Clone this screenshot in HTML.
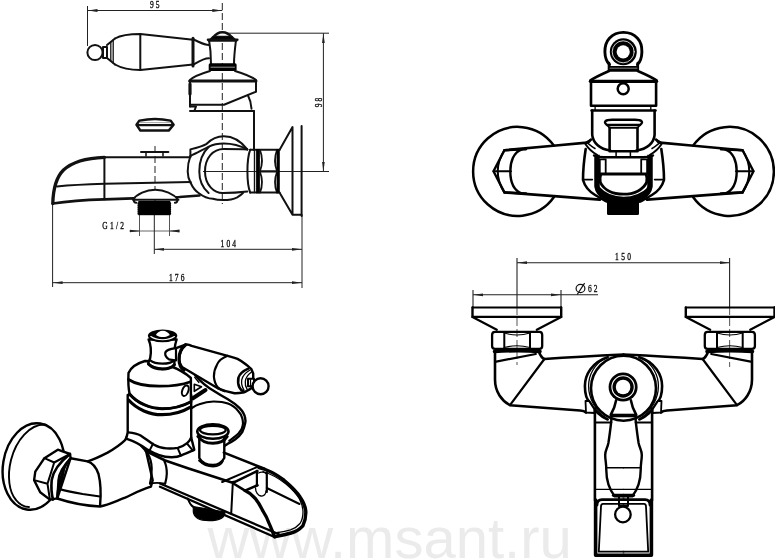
<!DOCTYPE html>
<html><head><meta charset="utf-8"><style>
html,body{margin:0;padding:0;background:#fff;overflow:hidden}
svg{display:block}
.t{font-family:"Liberation Serif",serif;font-size:10px;letter-spacing:2.8px;fill:#111;stroke:#111;stroke-width:0.35px}
svg{will-change:transform}
.wm{font-family:"Liberation Sans",sans-serif;font-size:58px;fill:#ebebeb}
</style></head><body>
<svg width="775" height="559" viewBox="0 0 775 559">
<defs>
<marker id="ar" viewBox="0 0 10 4" refX="10" refY="2" markerWidth="10" markerHeight="4" orient="auto-start-reverse" markerUnits="userSpaceOnUse"><path d="M0,0.6 L10,2 L0,3.4 z" fill="#222"/></marker>
</defs>
<!-- watermark -->
<text class="wm" x="207.5" y="558">www.msant.ru</text>

<!-- ================= FIGURE 1 : side view ================= -->
<g fill="none" stroke="#222" stroke-width="1">
 <!-- dim 95 -->
 <line x1="87.5" y1="6" x2="87.5" y2="46"/>
 <line x1="87.5" y1="10.5" x2="222.3" y2="10.5" marker-start="url(#ar)" marker-end="url(#ar)"/>
 <!-- dim 98 -->
 <line x1="226" y1="33.2" x2="329" y2="33.2"/>
 <line x1="323.4" y1="33.2" x2="323.4" y2="171.5" marker-start="url(#ar)" marker-end="url(#ar)"/>
 <line x1="203" y1="171.5" x2="329" y2="171.5"/>
 <!-- G1/2 -->
 <line x1="139.5" y1="214" x2="139.5" y2="236" stroke="#555"/>
 <line x1="169.5" y1="214" x2="169.5" y2="236" stroke="#555"/>
 <line x1="129.5" y1="231" x2="139.5" y2="231" marker-end="url(#ar)"/>
 <line x1="179.5" y1="231" x2="169.5" y2="231" marker-end="url(#ar)"/>
 <line x1="139.5" y1="231" x2="169.5" y2="231" stroke="#666"/>
 <line x1="154.3" y1="214" x2="154.3" y2="254"/>
 <!-- dim 104 -->
 <line x1="154.3" y1="249.3" x2="302" y2="249.3" marker-start="url(#ar)" marker-end="url(#ar)"/>
 <!-- dim 176 -->
 <line x1="52.6" y1="203" x2="52.6" y2="287"/>
 <line x1="302" y1="215" x2="302" y2="288"/>
 <line x1="52.6" y1="282.7" x2="302" y2="282.7" marker-start="url(#ar)" marker-end="url(#ar)"/>
 <!-- centerlines -->
 <line x1="222.3" y1="3" x2="222.3" y2="204" stroke-dasharray="7 3"/>
 <line x1="155" y1="146" x2="155" y2="214" stroke-dasharray="7 3"/>
</g>
<text class="t" transform="translate(150,7.7) scale(0.75,1)">95</text>
<text class="t" transform="translate(102.3,229) scale(0.75,1)" style="letter-spacing:3px">G1/2</text>
<text class="t" transform="translate(220.6,246.6) scale(0.75,1)">104</text>
<text class="t" transform="translate(169,280.5) scale(0.75,1)">176</text>
<text class="t" transform="translate(321.9,101.4) rotate(-90) scale(0.75,1)" text-anchor="middle">98</text>

<g fill="none" stroke="#111" stroke-width="2" stroke-linejoin="round" stroke-linecap="round">
 <!-- handle -->
 <circle cx="95" cy="52.5" r="7.6"/>
 <rect x="103" y="47" width="4" height="11"/>
 <path d="M107,45 L115,38.5 M107,58 L115,64.5"/>
 <path d="M110.8,42 V61 M113.2,40 V63" stroke-width="1.3"/>
 <path d="M115,38.5 C122,34.5 132,34 140.3,34 L193,39.7 M115,64.5 C122,68.5 132,70 140.3,70 L193,64.5"/>
 <path d="M140.3,34 V70"/>
 <path d="M193,38.2 V66" stroke-width="3"/>
 <path d="M193,39.5 C198,41 203,45 209,45 M193,65 C198,62 203,58.3 209,58.3"/>
 <!-- cap -->
 <path d="M213.3,37.5 C216,33.6 219,32.3 222.4,32.3 C226,32.3 229,33.6 231.8,37.5" stroke-width="2.6" fill="#fff"/>
 <path d="M208.5,41 L213,36.5 H232 L236.7,41 Z" fill="#000" stroke-width="1.5"/>
 <path d="M208,39.8 H237.3" stroke-width="2.6"/>
 <path d="M209,40 C210.5,48 211,56 211,64 M236,40 C235,48 234,56 234,64"/>
 <rect x="208.7" y="63.3" width="27.9" height="7.8" rx="1.5" fill="#000" stroke="none"/>
 <path d="M211,67.2 H234.5" stroke="#999" stroke-width="1"/>
 <path d="M210,71 C200,74 193,77 190,80 M235,71 C245,74 252,77 256,80"/>
 <!-- body -->
 <path d="M189.6,81 H256" stroke-width="3"/>
 <path d="M190,81 V106.4 M256,81 V91.7 L224,104.8 H190" />
 <path d="M190,84 V94" stroke-width="3.2"/>
 <path d="M248,95.5 Q251,101 251.5,108.7"/>
 <path d="M190,111 H254 M190,106.5 L196,106.5 L194.5,110.5" />
 <path d="M254,111 V150"/>
 <!-- elbow -->
 <path d="M104.4,157.2 H190.4 V149.4 C196,148 202,146.5 206.7,143.8 C212,138.5 217,136.3 223.8,136.3 C232,136.3 240,140 247.3,149.4"/>
 <path d="M190.4,156 C197,153 203,149.5 208.9,146.7 C213,144.5 218,143.5 223.8,143.5 C232,143.5 241,146 247.3,149.4"/>
 <path d="M190.4,156 C188.5,161 187.7,166 187.7,171.5 C187.7,177 189,180 190.7,183"/>
 <path d="M208.9,146.7 C202,153 199.3,162 199.3,171.5 C199.3,180 201.5,187 208.6,193"/>
 <path d="M247.3,149.4 C240,149 232,149 223.8,149 C213,149 205,158 205,171.5 C205,185 214,193 222.9,193 C231,193 239,192.5 247.3,191.5"/>
 <path d="M190.7,183 C193,188 195.5,191 198.6,193 C203,196.5 208,198.7 212.9,198.7 C216,199.8 219,200.1 222.9,200.1 C229,200.1 234,199 237.2,197.3 C239.5,196 241.5,194.5 243,193"/>
 <!-- spout -->
 <path d="M104.4,157.3 C86,158 72,162 63.5,170 C56.5,177 53.2,187 52.8,203.5" stroke-width="3.3"/>
 <path d="M52.8,203.5 C70,200.8 88,199.8 104.4,199.3 L133,198.4 L179.5,197 L199.4,195.5" stroke-width="2.7"/>
 <path d="M104.4,157.3 V199.3"/>
 <path d="M57,186.5 C72,185 88,184.3 104.4,183.8 L190.7,182"/>
 <!-- diverter knob -->
 <path d="M141,151.9 H168.4" stroke-width="2"/>
 <path d="M146,152 V156 M163,152 V156" stroke-width="1.5"/>
 <!-- floating cap -->
 <path d="M136.5,124.8 L139.5,120.6 C146,119.2 152,118.9 155,118.9 C158,118.9 164,119.2 170.5,120.6 L173.6,124.8 L168.7,130.6 H140.4 Z" stroke-width="2.5"/>
 <path d="M137,125.1 H173" stroke-width="2.3"/>
 <path d="M139.5,122.6 H170.5" stroke="#999" stroke-width="0.9"/>
 <!-- dome + thread -->
 <path d="M132.8,199.8 C137,194 146,189.8 155.2,189.8 C164.5,189.8 173.5,194 178.5,199.8 Z" fill="#fff"/>
 <path d="M134,200 C133.5,201.5 134.3,202.8 136.3,202.8 M177.2,200 C177.7,201.5 176.9,202.8 174.9,202.8"/>
 <rect x="138.3" y="201" width="32" height="14.2" fill="#000" stroke="none"/>
 <path d="M138.3,203 V214 M170.3,203 V214" stroke="#000" stroke-width="1.6" stroke-dasharray="1 1"/>
 <!-- nut -->
 <path d="M250.2,149.7 H279.5 M250.2,192.6 H279.5"/>
 <path d="M250.2,149.7 C246.5,160 246.5,183 250.2,192.6"/>
 <path d="M254.5,149.7 V192.6" stroke-width="1.4"/>
 <rect x="256.1" y="149" width="3.8" height="44.3" fill="#000" stroke="none"/>
 <path d="M260,150 Q264,160.5 260,171 M260,172 Q264,182 260,192.5 M277,150 Q273,160.5 277,171 M277,172 Q273,182 277,192.5" stroke-width="1.8"/>
 <rect x="276.6" y="149" width="3.2" height="44.3" fill="#000" stroke="none"/>
 <path d="M260,171.4 H277" stroke-width="2.2"/>
 <!-- flange -->
 <path d="M279.5,150 L292.5,127 V214.8 L279.5,192.6 M292.5,214.8 H301.6"/>
 <path d="M301.6,126 V216"/>
</g>

<!-- ================= FIGURE 2 : front view ================= -->
<g fill="none" stroke="#000" stroke-width="2.6" stroke-linejoin="round" stroke-linecap="round">
 <!-- knob -->
 <path d="M609.5,64.6 C607,62 605,57 604.9,52 C604.8,46 606.5,41.5 609.4,38.3 C613,34.5 618,32.4 623.4,32.4 C629,32.4 634,34.5 637.5,38.3 C640.5,41.5 642,46 641.9,52 C641.8,57 640,62 637.5,64.6" stroke-width="2.9"/>
 <circle cx="623.3" cy="51.8" r="13.5" fill="#000" stroke="none"/>
 <circle cx="623.2" cy="51.8" r="6.6" fill="#fff" stroke="none"/>
 <circle cx="623.2" cy="51.8" r="11" stroke="#fff" stroke-width="0.8"/>
 <path d="M609,63 V70.5 H637.8 V63"/>
 <rect x="609" y="66" width="28.8" height="4.8" fill="#000" stroke="none"/>
 <path d="M610,68.2 H637" stroke="#999" stroke-width="0.8"/>
 <path d="M609,71 C600,75 594,78 590.4,80.4 M637.8,71 C647,75 653,78 656.6,80.4"/>
 <path d="M590.4,81.3 H656.6" stroke-width="3.2"/>
 <path d="M591,81 V105.8 H656.1 V81"/>
 <circle cx="623.2" cy="88.7" r="5.5" stroke-width="2.5"/>
 <path d="M595.1,106 V110 M650.8,106 V110" stroke-width="1.3"/>
 <path d="M591.6,110.5 H655.5" stroke-width="2.6"/>
 <!-- lower body -->
 <path d="M592.2,110.5 V134.8 C593,143 600,149 610.2,150.5 M654.6,110.5 V134.8 C654,143 647,149 636.3,150.5"/>
 <!-- diverter -->
 <path d="M607,125 C603,122 605,119.7 612,119.7 H635 C642,119.7 644,122 640,125 Z" stroke-width="2.4"/>
 <path d="M607,125 L609.6,127.9 H637.5 L640,125" stroke-width="1.6"/>
 <path d="M609.6,127.9 V151.2 H637.5 V127.9"/>
 <path d="M616.1,151.4 V155.8 M630.4,151.4 V155.8" stroke-width="1.5"/>
 <!-- lower spout -->
 <path d="M585.7,149 C584,160 583,170 583,180 C585,187 590,192 595.1,195 C600,198 604,200 607.2,201.7 M661.3,149 C663,160 664,170 664,180 C662,187 657,192 651.9,195 C647,198 643,200 639.8,201.7"/>
 <path d="M583,179.6 H592.4 M654.6,179.6 H664" stroke-width="1.6"/>
 <path d="M597,154.8 V186.3 C598.5,196 609,201 623.5,201 C638,201 648.5,196 650,186.3 V154.8" stroke-width="5.5" stroke-linecap="butt"/>
 <path d="M594,155.5 C597,157 600,157.3 604,157.3 H643 C647,157.3 650,157 653,155.5" stroke-width="2.4"/>
 <path d="M599.8,159.3 V174 M605.7,159.3 V174 M641.2,159.3 V174 M647.1,159.3 V174 M599.8,159.3 H605.7 M641.2,159.3 H647.1" stroke-width="1.8"/>
 <path d="M600.8,174 H646.1 C647.5,178 647.2,180 646.6,182.4 C643,190 634,194.2 623.5,194.2 C613,194.2 604,190 600.3,182.4 C599.8,180 599.5,178 600.8,174 Z" stroke-width="2.8"/>
 <path d="M598.9,188.3 C605,195 613,198.2 623.5,198.2 C634,198.2 642,195 649,188.3" stroke-width="2.8"/>
 <path d="M585.4,144 C588,148 591,151.5 597,154.8 M661.6,144 C659,148 656,151.5 650,154.8" stroke-width="2"/>
 <path d="M585.4,142.7 L590.5,139.8 M661.6,142.7 L656.5,139.8" stroke-width="1.8"/>
 <rect x="607" y="200" width="32" height="15" rx="1.5" fill="#000" stroke="none"/>
</g>
<g fill="none" stroke="#000" stroke-width="2.6" stroke-linejoin="round" stroke-linecap="round" id="f2side">
 <!-- left flange circle (partial, hidden behind arm) -->
 <path d="M553.8,145.5 A44.5,44.5 0 1 0 553.8,197.3" stroke-width="2.5"/>
 <!-- hex nut -->
 <path d="M526,149.3 L504.4,150.2 L493.5,171.3 L504.4,192.4 L526,193.5" stroke-width="2.4"/>
 <path d="M504.4,150.2 Q491,171.3 504.4,192.4" stroke-width="2"/>
 <path d="M493.5,171.3 H511" stroke-width="2"/>
 <path d="M522,149.3 C513.5,152 510.3,162 510.3,171.3 C510.3,181 513.5,190.5 522,193.6" stroke-width="2.4"/>
 <!-- arm -->
 <path d="M504.4,150.2 C530,148 560,145 587,142.6 C589,142 590,141 591,139.5"/>
 <path d="M504.4,192.4 C530,194.5 565,197 600,199.6"/>
 <path d="M587,142.6 C590,145 592.5,147 595,148.5" stroke-width="1.5"/>
</g>
<use href="#f2side" transform="translate(1247,0) scale(-1,1)"/>

<!-- ================= FIGURE 4 : top view ================= -->
<g fill="none" stroke="#222" stroke-width="1.1">
 <line x1="517" y1="258" x2="517" y2="307"/>
 <line x1="517" y1="307" x2="517" y2="365" stroke-dasharray="8 3" stroke="#666"/>
 <line x1="729.6" y1="258" x2="729.6" y2="307"/>
 <line x1="729.6" y1="307" x2="729.6" y2="367" stroke-dasharray="8 3" stroke="#666"/>
 <line x1="517" y1="262.7" x2="729.6" y2="262.7" marker-start="url(#ar)" marker-end="url(#ar)"/>
 <line x1="473" y1="290" x2="473" y2="307"/>
 <line x1="561" y1="290" x2="561" y2="307"/>
 <line x1="473" y1="294.8" x2="561" y2="294.8" marker-start="url(#ar)" marker-end="url(#ar)"/>
 <line x1="561" y1="294.8" x2="598" y2="294.8"/>
</g>
<text class="t" transform="translate(615,260) scale(0.75,1)" style="letter-spacing:3.2px">150</text>
<text class="t" transform="translate(588,292.4) scale(0.75,1)">62</text>
<g fill="none" stroke="#111" stroke-width="1.2"><ellipse cx="580.5" cy="288.5" rx="4.4" ry="4.1"/><path d="M584.6,283.1 L577.2,294.5"/></g>
<g fill="none" stroke="#000" stroke-width="2.6" stroke-linejoin="round" stroke-linecap="round" id="f4side">
 <!-- flange -->
 <path d="M472.5,307.5 H561.2" stroke-width="2"/>
 <path d="M472.5,307.5 V316.9 H561.2 V307.5" stroke-width="2.4"/>
 <path d="M472.5,317 L496.8,329.8 M561.2,317 L536.8,329.8" stroke-width="2.2"/>
 <!-- nut -->
 <path d="M495,331.8 H539.5 C541.5,331.8 542.2,333 542.2,335 V346 C542.2,348 541.5,348.8 539.5,348.8 H495 C493,348.8 492.1,348 492.1,346 V335 C492.1,333 493,331.8 495,331.8 Z" stroke-width="2.3"/>
 <path d="M504.3,332 V348.5 M530,332 V348.5" stroke-width="2"/>
 <path d="M504.3,333 Q517,337 530,333 M504.3,347.5 Q517,344 530,347.5" stroke-width="1.2"/>
 <path d="M494.5,351.5 Q517,350 540,351.5" stroke-width="3.6"/>
 <!-- arm -->
 <path d="M495,352 V379.4 C495,392 502,401 510,405.2 L580,410.5 C583,410.8 585,411.5 586,412.5"/>
 <path d="M495,361.8 L535.8,354" stroke-width="2.2"/>
 <path d="M539,352 C540.5,356 542,358 544.4,359 C565,357.5 590,356 623.5,354.5"/>
 <path d="M544.4,359 L510,405.2" stroke-width="2.2"/>
 <!-- crescent -->
 <path d="M607.7,357.2 C592,362 584.9,375 584.9,386 C584.9,395 587,400 590.2,402.8 C594,410 600,416 607.7,419.5" stroke-width="2.6"/>
 <path d="M604.5,359 C594.5,364 588.6,375 588.6,386 C588.6,399 596,411 606,418" stroke-width="1.3"/>
 <path d="M585.5,401 L589,401 L594.5,409.5 L594.5,413 L586,412.5 Z" stroke-width="1.8" fill="#fff"/>
 <path d="M594.9,408.8 V500" stroke-width="2.6"/>
 <path d="M595.6,500 V555.2 H623.5" stroke-width="3.6"/>
 <path d="M594.9,422.5 H611.3" stroke-width="2"/>
 <path d="M594.9,489.4 H623.5" stroke-width="1.4"/>
 <!-- neck -->
 <path d="M616.1,400.4 C615,407 613,411 610.7,415"/>
 <path d="M611.3,415 V421 C610.5,428 609.5,436 608.4,443 C607.5,448 605.2,450 605.2,455 C605.2,460 606.3,463 606.3,470 C606.3,480 609,489 614.8,496.4 H623.5" stroke-width="2.4"/>
 <path d="M606.3,467.7 H623.5" stroke-width="1.6"/>
 <!-- knob -->
 <path d="M619,497 V506 H623.5" stroke-width="2"/>
 <path d="M613.5,495.3 H623.5" stroke-width="3.2"/>
 <!-- spout box -->
 <path d="M623.5,499.6 H602 C598.5,499.6 597,501.5 597,505" stroke-width="2.8"/>
 <path d="M623.5,503.8 H603 C601.5,503.8 601,505 601,506.5 L598.8,551.7 H623.5" stroke-width="1.8"/>
</g>
<use href="#f4side" transform="translate(1247,0) scale(-1,1)"/>
<g fill="none" stroke="#000" stroke-width="2.6">
 <circle cx="623.5" cy="388.2" r="32.5"/>
 <circle cx="623.1" cy="387" r="14.5" fill="#000" stroke="none"/>
 <circle cx="623.1" cy="387" r="11.2" stroke="#fff" stroke-width="1.1"/>
 <circle cx="623.1" cy="387" r="7.3" fill="#fff" stroke="none"/>
 <path d="M610.7,415.5 H635.8" stroke-width="3.6"/>
 <circle cx="622.9" cy="514.5" r="7.8" stroke-width="2.3" fill="#fff"/>
</g>

<!-- ================= FIGURE 3 : perspective ================= -->
<g fill="none" stroke="#000" stroke-width="2.4" stroke-linejoin="round" stroke-linecap="round">
 <!-- wall flange -->
 <ellipse cx="33.5" cy="466.5" rx="30.5" ry="43.5" transform="rotate(9 33.5 466.5)" fill="#fff" stroke-width="2.4"/>
 <path d="M45,424.5 C30,424 16,440 11,460 C7,476 9,492 16,500 C20,505 25,507 29,507" stroke-width="1.9"/>
 <!-- pipe + elbow -->
 <path d="M70.6,458.2 L87.6,461.4 C95,459 101,456 107.6,452.6 C114,449 120,445 125.1,440.1 L128.9,432.6 L146,451 L152.7,480.2 L150.9,486.7 C140,490 133,494 125.1,497.7 C115,501.5 108,505 100,506.5 C88,506 72.5,503.5 57.2,498.5 Z" fill="#fff"/>
 <path d="M87.6,461.4 C93,463 96.3,467.7 98.5,474 C101.3,485.2 101,495 100.1,505.2"/>
 <path d="M58.8,488.9 C66,491 74,492.5 82.6,494 L100,496.5" stroke-width="2.2"/>
 <!-- hex nut -->
 <path d="M44.4,458.2 L57.8,449.7 L70,454 L70.6,458 C64,466 58.5,480 57.2,498.4 L49.9,499.6 L40.2,492.3 L34.1,480.1 L35.3,471.6 Z" fill="#fff"/>
 <path d="M44.4,458.2 L54.2,462.5 L70,454 M54.2,462.5 L47.5,483.8 L49.9,499.6 M34.1,480.1 L47.5,483.8" stroke-width="2"/>
 <path d="M70,454 C60,462 53,472 51.7,480 C51,488 51.5,494 53,499.6" stroke-width="2.6"/>
 <path d="M70.6,458.2 C63,466 59,473 58.4,480 C58,488 57.5,494 57.2,498.4" stroke-width="2.2"/>
 <!-- body lower cylinder -->
 <path d="M127.7,395 V432.4 L126.2,438.6 C132,440.5 140,444 147.9,449.9 C151.5,452 155,454 159.2,455.1 C163,456.5 167,457.2 171.6,457.2 C175,457.2 179,456.5 181.9,455.1 C186,453.5 190.5,451.5 194.3,449.9 L191.2,437.5 V395 Z" fill="#fff"/>
 <path d="M128.3,432.4 C134,433 138,434 140.6,435.5 C146,439 150,442.5 154.1,444.8 C158,447 162,448.4 166.4,448.4 C170,448.6 174,448.5 177.8,447.9 C181.5,446.8 185,445 187.1,443.2 C189,441.5 190.5,439.5 191.2,437.5" stroke-width="2.4"/>
 <path d="M153,443.7 L149.9,449.9 M177.8,448.4 L180.9,455.6 M187.1,443.7 L192.3,449.9" stroke-width="2"/>
 <!-- band ring -->
 <path d="M128.6,400 C137,409.5 150,414.7 162,414.7 C174,414.7 184,411 190.9,406.8" stroke-width="3.2"/>
 <!-- upper body -->
 <path d="M128.5,373 C128,383 128.5,389 129.6,394 C137,403 150,408.7 162,408.7 C174,408.7 184,405.5 190.9,401.7 V378 C180,368 160,361 145,361 C138,363 131,367 128.5,373 Z" fill="#fff" stroke-width="2.4"/>
 <path d="M129.6,394 C137,403 150,408.7 162,408.7 C174,408.7 184,405.5 190.9,401.7" stroke-width="3"/>
 <path d="M128.5,379.5 C136,384.5 147,386.2 159.4,386.2 C172,386.2 183,384.5 190.7,381.7" stroke-width="2.8"/>
 <ellipse cx="185.3" cy="390.7" rx="3" ry="5.5" transform="rotate(20 185.3 390.7)" stroke-width="2"/>
 <!-- cap -->
 <path d="M148.6,339.5 C151,345 151.5,351 150.2,358 L148.1,363.7 C152,367.5 157,369 162.6,369 C168,369 172,367.5 174.4,364.7 L174.4,358 C174,352 174.5,346 176.6,339.5 Z" fill="#fff"/>
 <path d="M150.2,360.4 C153,362.8 157.5,363.7 162.6,363.7 C168,363.7 172,362.5 174.2,360.4" stroke-width="2.2"/>
 <path d="M148.6,364.2 C152,367.5 157,369 162.6,369 C168,369 172,367.5 174.4,364.7" stroke-width="3"/>
 <ellipse cx="162.6" cy="335.85" rx="14.7" ry="6.45" fill="#000" stroke="none"/>
 <path d="M150.8,336.5 C154,338.8 158,339.7 162.6,339.7 C167,339.7 171,338.8 174.4,336.5" stroke="#fff" stroke-width="1.1"/>
 <path d="M155.9,335 C157,332.5 160,330.7 162.8,330.7 C165.5,330.7 168.5,332.5 169.8,335 C167,336.8 165,337.1 162.8,337.1 C160.5,337.1 158.5,336.8 155.9,335 Z" fill="#fff" stroke="none"/>
 <!-- outlet loop behind diverter -->
 <path d="M195,375 C200,381 207,387 213.6,390.7 C218,393.5 223,396.5 227.9,399.3 C232,401.8 236,404.5 239.4,407.9 C242.5,411 244.5,414.5 245.1,417.9 C245.6,420 245.6,422 245.1,423.6 C244.5,426.5 243.5,429.5 242.2,432.2 C240.5,435 238,437.5 235.1,439.4 C232,441.5 230,442.7 227.9,443.7 L223.6,446.5" stroke-width="2.4"/>
 <path d="M192.2,407.9 C194.5,406.3 197,405 199.3,404.3 C204,402.5 209,401.5 213.6,401.5 C219,401.5 224,402 227.9,403.6 C232,405.2 235.5,407.5 238,410.8 C240,413 241.6,415.5 242.2,417.9 C242.8,420 243,422 243,423.6 C242.8,425.5 242.3,427.5 241.5,429.4 C240,432 238,434.5 235.1,436.5 C233,438 231,439.8 229.3,440.8" stroke-width="2.2"/>
 <path d="M194.3,384.2 L201.5,386.8 L194.3,391.3 Z" stroke-width="1.6"/>
 <path d="M192.5,398.5 L205.5,390" stroke-width="4"/>
 <path d="M194.8,377.4 L198.8,382.4" stroke-width="1.5"/>
 <!-- handle -->
 <path d="M176,348.1 C170,349 165.2,350 165.2,353.5 C165,356 167,358 169,359.4 C172,360 174,360.5 176,360.4 Z" fill="#fff" stroke-width="2.2"/>
 <path d="M176,348.1 L185.5,344.6 C188,344 190,345 191.6,345.9 L227.6,355.8 C231,357 234.5,357.5 237.5,358.8 C241,360.5 243.5,362.5 246.3,364.7 C248.5,366.5 250,367.5 251.3,369.1 L253.2,373.5 L253.2,387 C250,389 247,391 244.4,392.2 C240,393 237,393.5 234.5,393.2 C228,392 222,390 217.8,388.3 L182,367 C180.5,365 179.5,363 179.3,360 C179,355 181,349 186,344.8 Z" fill="#fff"/>
 <path d="M185.5,344.8 C181.5,348 179,353 179,359 C179,364.5 180.5,368 184,370.1" stroke-width="3.2"/>
 <path d="M227.6,355.8 C222,358 218.5,361 217,364.7 C214.5,369 213.9,373 213.9,376.5 C214.2,381 215.5,384.5 217.8,387.3 C219.5,389 222,390.5 224.7,391.3" stroke-width="2.2"/>
 <path d="M248.3,368.6 C243,371 239.5,374 238.5,377.5 C237.8,381 238,384.5 239.4,387.3 C240.5,389.5 241.8,390.6 243.4,391.3" stroke-width="2.6"/>
 <path d="M250,370 C245,373 242.3,376 241.7,380 C241.2,384 242,387 244,390" stroke-width="1.3"/>
 <path d="M251.5,372 C247.5,375 245.6,378 245.3,381.5 C245,385 245.5,387 247,389" stroke-width="1.3"/>
 <path d="M248,378.8 H254 V386.2 H248 Z" fill="#fff" stroke-width="2"/>
 <path d="M250.5,379.5 V385.5" stroke-width="1.2"/>
 <circle cx="260.6" cy="386.3" r="8" fill="#fff" stroke-width="2.4"/>
 <!-- diverter -->
 <path d="M199.3,436 V458 C201.5,462 206,465 213,465 C219,465 222,462 224.3,458 V436 Z" fill="#fff" stroke-width="2.4"/>
 <path d="M199,460.5 C203,464.5 208,466.5 213,466.5 C218,466.5 221.5,464.5 223,461" stroke-width="1.8"/>
 <path d="M197.9,436.5 C201,441 206,443.2 212.9,443.2 C219.5,443.2 224.5,441 227.2,436.5" stroke-width="3"/>
 <ellipse cx="212.9" cy="431.5" rx="15.6" ry="7.2" fill="#fff" stroke-width="2.6"/>
 <ellipse cx="212.9" cy="430.1" rx="12.9" ry="4.3" stroke-width="2.2"/>
 <!-- spout -->
 <path d="M145.8,451 L165.2,460.5 L187.1,468 L231,482.2 C232.5,482.6 233.5,482.4 235,481.8 L257.4,471" stroke-width="2.6"/>
 <path d="M223.9,452.6 L264.5,468.7" stroke-width="2.6"/>
 <path d="M222.2,482 L257.4,466.9" stroke-width="2"/>
 <path d="M232.8,483 L231.2,513.7" stroke-width="2"/>
 <path d="M160,483.5 L279,534.3" stroke-width="2.3"/>
 <path d="M160,486.8 L274.6,537" stroke-width="2.3"/>
 <path d="M259,467.6 C267,469.5 276,474 284,480.2 C291,486 296.5,491 300.2,497.2 C303.5,502 305.5,507 305.8,511.5 C306,517 305,521.5 302.8,525.9 C299.5,529.5 296,531.8 291.2,533 C286,534.5 281,535.5 275.5,536.5" stroke-width="3.4"/>
 <path d="M263,471.5 C271,474 279,478.5 286,484 C292,489 296.5,494 299.5,499 C302,504 303,508 303,512 C303,517 302,520.5 300,523.5 C297.5,526.5 294.5,528.5 290.5,529.8 C286,531 282,532 277.5,532.5" stroke-width="1.3"/>
 <path d="M245,490.6 C249,492.5 252.5,495 255.4,498.6 C259,503 261,507 263,511.2 C265.5,515 267.5,519 269.1,523.4 C271,527.5 272.5,531.5 274.6,537" stroke-width="3.3"/>
 <path d="M233.5,483.5 L245,490.6 L257.5,485.3" stroke-width="2.6"/>
 <path d="M256.9,470.8 V485.5 M266.8,472.5 V492" stroke-width="2.2"/>
 <path d="M258.5,473 C260.5,471.8 264,471.8 266,473.5" stroke-width="1.3"/>
 <path d="M255.5,488 C255.5,492 258,495.5 261,496 C264,496.5 266,494 266,491" stroke-width="1.3"/>
 <path d="M266.8,488 L299.5,504" stroke-width="2"/>
 <!-- collar between body and spout -->
 <path d="M146.8,452 C150,457 151.7,462 151.7,468.5 C151.7,475 151,480 150,483.6 M164.4,461.3 C166.3,465 166.8,469 166.8,473.6 C166.8,477 166,480.5 165.2,483.6" stroke-width="2.2"/>
 <path d="M150,483.6 C155,482.5 160,482.8 165.2,483.6" stroke-width="1.6"/>
 <!-- thread under spout -->
 <path d="M188,499.6 C190,504 191.5,506 192.8,507" stroke-width="1.5"/>
 <path d="M193.3,506.5 L225,512 C225,517 220,520.7 209,520.7 C199,520.7 194,517 193.3,512 Z" fill="#000" stroke-width="1.2"/>
 <path d="M187.9,498.2 C189,502 191,505 193.3,506.5" stroke-width="1.5"/>
</g>
</svg>
</body></html>
